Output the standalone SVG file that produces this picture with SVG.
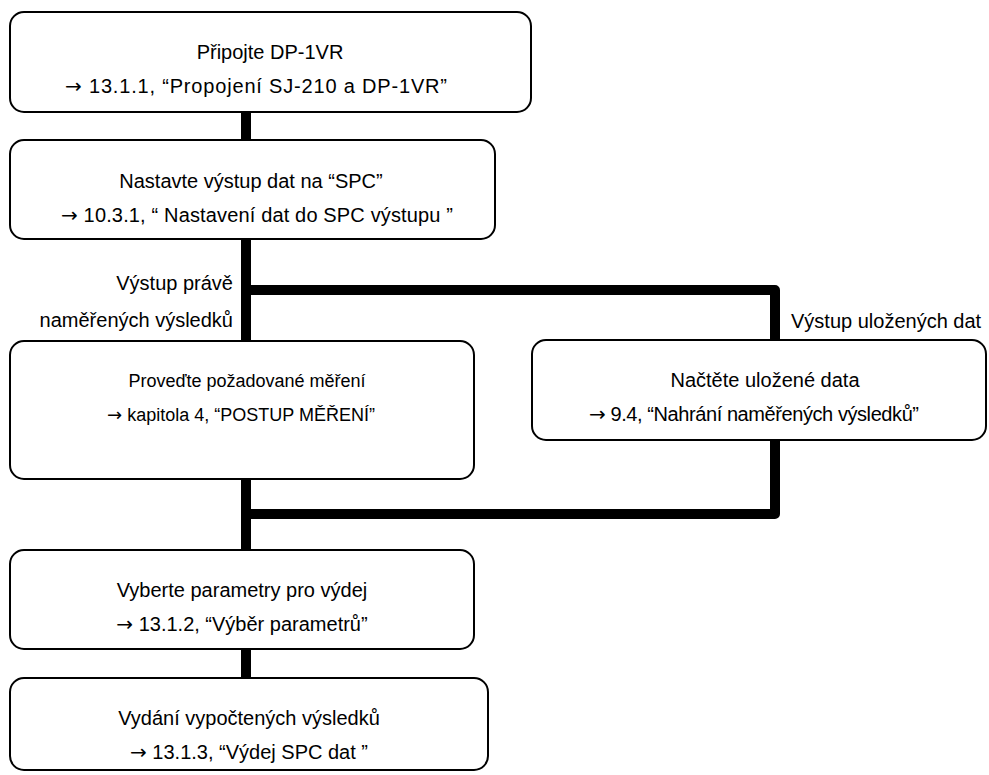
<svg xmlns="http://www.w3.org/2000/svg" width="989" height="775" viewBox="0 0 989 775">
<style>
.box{fill:#fff;stroke:#000;stroke-width:2}
.con{fill:none;stroke:#000;stroke-width:10;stroke-linejoin:round}
text{font-family:"Liberation Sans",Arial,sans-serif;font-size:20px;fill:#000}
.c{text-anchor:middle}
.e{text-anchor:end}
.ar{font-family:"DejaVu Sans",sans-serif}
.sm{font-size:18px}
</style>
<rect width="989" height="775" fill="#fff"/>
<g id="connectors">
<path class="con" d="M246,112V140"/>
<path class="con" d="M246,239V341"/>
<path class="con" d="M246,290H775V340"/>
<path class="con" d="M775,440V514H246"/>
<path class="con" d="M246,479V550"/>
<path class="con" d="M246,649V678"/>
</g>
<g id="labels">
<text class="e" x="233" y="290">Výstup právě</text>
<text class="e" x="233" y="327">naměřených výsledků</text>
<text x="791" y="328">Výstup uložených dat</text>
</g>
<g id="n1">
<rect class="box" x="10" y="12" width="521" height="100" rx="14"/>
<text class="c" x="270" y="59">Připojte DP-1VR</text>
<text class="c" x="256" y="93" textLength="382"><tspan class="ar">→</tspan> 13.1.1, “Propojení SJ-210 a DP-1VR”</text>
</g>
<g id="n2">
<rect class="box" x="10" y="140" width="485" height="99" rx="14"/>
<text class="c" x="251" y="188">Nastavte výstup dat na “SPC”</text>
<text class="c" x="257" y="222" textLength="392"><tspan class="ar">→</tspan> 10.3.1, “ Nastavení dat do SPC výstupu ”</text>
</g>
<g id="n3">
<rect class="box" x="10" y="341" width="464" height="138" rx="14"/>
<text class="c sm" x="247" y="387">Proveďte požadované měření</text>
<text class="c sm" x="241" y="421"><tspan class="ar">→</tspan> kapitola 4, “POSTUP MĚŘENÍ”</text>
</g>
<g id="n4">
<rect class="box" x="532" y="340" width="454" height="100" rx="14"/>
<text class="c" x="765" y="387">Načtěte uložené data</text>
<text class="c" x="754" y="421" textLength="330"><tspan class="ar">→</tspan> 9.4, “Nahrání naměřených výsledků”</text>
</g>
<g id="n5">
<rect class="box" x="10" y="550" width="464" height="99" rx="14"/>
<text class="c" x="242" y="597">Vyberte parametry pro výdej</text>
<text class="c" x="242" y="631"><tspan class="ar">→</tspan> 13.1.2, “Výběr parametrů”</text>
</g>
<g id="n6">
<rect class="box" x="10" y="678" width="478" height="92" rx="14"/>
<text class="c" x="249" y="725">Vydání vypočtených výsledků</text>
<text class="c" x="249" y="759"><tspan class="ar">→</tspan> 13.1.3, “Výdej SPC dat ”</text>
</g>
</svg>
